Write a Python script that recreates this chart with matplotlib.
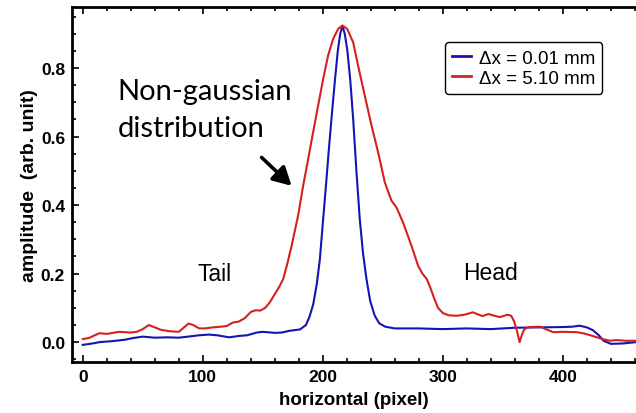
import numpy as np
from matplotlib import pyplot as plt
from matplotlib.ticker import MultipleLocator

# blue trace, dx = 0.01 mm
blue_x = [0, 8, 14, 25, 35, 42, 50, 60, 70, 80, 90, 97, 105, 112, 122, 130, 137, 145, 150, 160,
          166, 172, 181, 186, 189, 192, 195, 197.5, 200.3, 202.4, 205, 207.2, 210, 212.5, 214.5,
          216.4, 218.3, 220.5, 223, 225.3, 228, 230.8, 233.5, 236.4, 239.5, 243.3, 247, 252, 260,
          280, 300, 320, 340, 360, 380, 400, 408, 414, 420, 425, 430, 434, 440, 450, 461]
blue_y = [-0.008, -0.004, 0.0, 0.003, 0.007, 0.012, 0.016, 0.013, 0.014, 0.013, 0.017, 0.02,
          0.022, 0.02, 0.014, 0.018, 0.02, 0.028, 0.03, 0.027, 0.028, 0.033, 0.037, 0.05, 0.075,
          0.11, 0.17, 0.24, 0.359, 0.447, 0.56, 0.651, 0.76, 0.85, 0.9, 0.922, 0.9, 0.85, 0.76,
          0.651, 0.5, 0.359, 0.26, 0.184, 0.12, 0.077, 0.055, 0.045, 0.04, 0.04, 0.038, 0.04,
          0.038, 0.042, 0.043, 0.044, 0.045, 0.048, 0.043, 0.035, 0.02, 0.004, -0.005, -0.004, 0.0]

# red trace, dx = 5.10 mm
red_x = [0, 5, 10, 14, 20, 30, 40, 45, 50, 55, 60, 65, 72, 80, 85, 88, 92, 97, 102, 108, 115,
         120, 125, 130, 135, 140, 144, 148, 152, 155.8, 160, 163.5, 167, 170.5, 174, 179.4, 183.6,
         187.8, 191.9, 196.1, 200.3, 204.4, 208.6, 212.8, 216.4, 220.3, 225.3, 229.4, 235, 240.6,
         246.1, 251.7, 257.2, 261.4, 266.9, 273.9, 279.4, 283, 286.7, 290, 293, 296, 300, 305,
         311.7, 318, 325, 333, 338, 342, 347.5, 354, 357, 359.5, 362, 364, 366, 368, 372, 381,
         392, 400, 411.7, 418, 425, 432, 439, 445, 452, 461]
red_y = [0.009, 0.012, 0.02, 0.026, 0.024, 0.03, 0.028, 0.03, 0.038, 0.05, 0.043, 0.036, 0.032,
         0.03, 0.045, 0.054, 0.05, 0.04, 0.04, 0.043, 0.045, 0.047, 0.057, 0.06, 0.07, 0.088,
         0.093, 0.092, 0.1, 0.116, 0.14, 0.16, 0.184, 0.23, 0.281, 0.369, 0.456, 0.534, 0.612,
         0.69, 0.768, 0.836, 0.885, 0.914, 0.924, 0.914, 0.875, 0.807, 0.719, 0.632, 0.554,
         0.466, 0.413, 0.393, 0.349, 0.281, 0.223, 0.2, 0.184, 0.155, 0.126, 0.1, 0.085, 0.078,
         0.077, 0.08, 0.087, 0.076, 0.082, 0.078, 0.073, 0.08, 0.077, 0.06, 0.03, 0.0, 0.022,
         0.038, 0.044, 0.045, 0.029, 0.03, 0.029, 0.025, 0.018, 0.01, 0.004, 0.006, 0.004, 0.004]

labels = ["\u0394x = 0.01 mm", "\u0394x = 5.10 mm"]

plt.rcParams['font.family'] = ['Liberation Sans', 'DejaVu Sans']

fig = plt.figure(figsize=(6.36, 4.14), dpi=100)
ax = fig.add_axes([72/636, 51/414, (636-72)/636, (363-8)/414])

ax.plot(blue_x, blue_y, color='#1414b4', linewidth=1.5, label=labels[0])
ax.plot(red_x, red_y, color='#d61f1f', linewidth=1.5, label=labels[1])

ax.set_xlim(-9, 461)
ax.set_ylim(-0.058, 0.978)
ax.xaxis.set_major_locator(MultipleLocator(100))
ax.xaxis.set_minor_locator(MultipleLocator(20))
ax.yaxis.set_major_locator(MultipleLocator(0.2))
ax.yaxis.set_minor_locator(MultipleLocator(0.05))
ax.yaxis.set_major_formatter(plt.FuncFormatter(lambda v, p: "%.1f" % v))
ax.tick_params(which='both', direction='in', top=True, right=False, width=1.2)
ax.tick_params(which='major', length=5, labelsize=12.5, pad=5)
ax.tick_params(which='minor', length=3)
for lab in ax.get_xticklabels() + ax.get_yticklabels():
    lab.set_fontweight('bold')
for s in ['left', 'bottom', 'top']:
    ax.spines[s].set_linewidth(2)
ax.spines['right'].set_visible(False)

ax.set_xlabel("horizontal (pixel)", fontsize=13.5, fontweight='bold', labelpad=5)
ax.set_ylabel("amplitude  (arb. unit)", fontsize=14, fontweight='bold', labelpad=2)

leg = ax.legend(loc='upper left', bbox_to_anchor=(0.661, 0.901), fontsize=13.5, handlelength=1.0,
                handletextpad=0.4, borderpad=0.4, labelspacing=0.15, framealpha=1, fancybox=True,
                borderaxespad=0)
leg.get_frame().set_edgecolor('black')
leg.get_frame().set_linewidth(1.0)
for h in leg.get_lines():
    h.set_linewidth(2)

ax.text(29.2, 0.7095, "Non-gaussian", fontsize=21, family=['Lato', 'DejaVu Sans'],
        va='baseline', ha='left')
ax.text(29.2, 0.601, "distribution", fontsize=21, family=['Lato', 'DejaVu Sans'],
        va='baseline', ha='left')
ax.annotate("", xy=(174, 0.456), xytext=(149, 0.539),
            arrowprops=dict(arrowstyle='-|>,head_length=0.55,head_width=0.3', mutation_scale=20,
                            color='black', lw=2.6, shrinkA=0, shrinkB=0))
ax.text(110, 0.199, "Tail", fontsize=16.5, ha='center', va='center')
ax.text(340, 0.204, "Head", fontsize=16.5, ha='center', va='center')

fig.savefig("out.png", dpi=100)
